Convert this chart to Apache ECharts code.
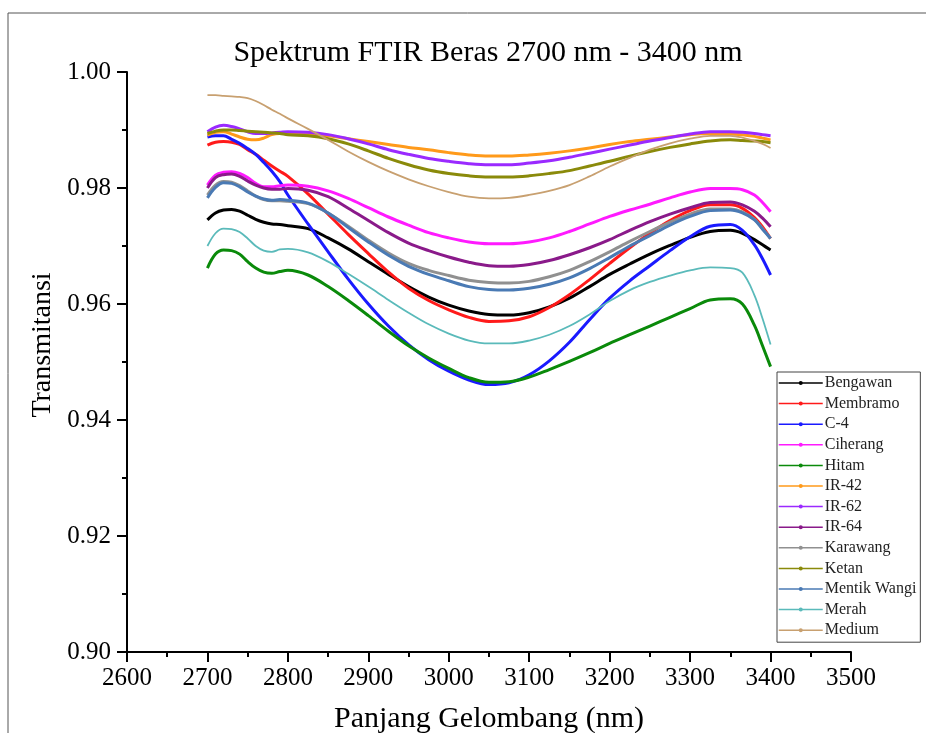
<!DOCTYPE html>
<html><head><meta charset="utf-8">
<script src="https://cdn.jsdelivr.net/npm/echarts@6/dist/echarts.min.js"></script>
<style>html,body{margin:0;padding:0;background:#fff}#c{width:926px;height:733px}</style>
</head><body><div id="c"></div>
<script>
const wavelength = [2700,2710,2720,2730,2740,2750,2760,2770,2780,2790,2800,2825,2850,2875,2900,2925,2950,2975,3000,3025,3050,3075,3100,3125,3150,3175,3200,3225,3250,3275,3300,3325,3350,3365,3380,3390,3400];

const bengawan    = [0.9745,0.9757,0.9762,0.9763,0.9760,0.9753,0.9746,0.9741,0.9738,0.9737,0.9735,0.9730,0.9714,0.9695,0.9673,0.9651,0.9630,0.9612,0.9598,0.9588,0.9582,0.9581,0.9585,0.9595,0.9610,0.9630,0.9651,0.9669,0.9686,0.9701,0.9715,0.9725,0.9727,0.9722,0.9711,0.9702,0.9693];
const membramo    = [0.9874,0.9879,0.9880,0.9879,0.9875,0.9866,0.9858,0.9848,0.9838,0.9829,0.9820,0.9790,0.9755,0.9720,0.9687,0.9655,0.9627,0.9606,0.9590,0.9577,0.9570,0.9571,0.9578,0.9594,0.9616,0.9642,0.9670,0.9697,0.9722,0.9744,0.9761,0.9771,0.9771,0.9765,0.9749,0.9733,0.9713];
const c4          = [0.9888,0.9890,0.9890,0.9884,0.9877,0.9868,0.9858,0.9844,0.9829,0.9811,0.9788,0.9738,0.9690,0.9643,0.9600,0.9562,0.9530,0.9504,0.9484,0.9469,0.9461,0.9464,0.9478,0.9502,0.9534,0.9573,0.9610,0.9640,0.9666,0.9692,0.9716,0.9734,0.9737,0.9727,0.9702,0.9678,0.9650];
const ciherang    = [0.9805,0.9822,0.9827,0.9828,0.9825,0.9818,0.9808,0.9802,0.9802,0.9804,0.9805,0.9803,0.9795,0.9782,0.9766,0.9750,0.9736,0.9723,0.9714,0.9707,0.9704,0.9704,0.9707,0.9714,0.9725,0.9738,0.9751,0.9762,0.9772,0.9783,0.9793,0.9799,0.9799,0.9797,0.9788,0.9775,0.9759];
const hitam       = [0.9662,0.9686,0.9693,0.9692,0.9686,0.9673,0.9662,0.9655,0.9653,0.9656,0.9658,0.9650,0.9630,0.9606,0.9580,0.9553,0.9528,0.9507,0.9489,0.9473,0.9465,0.9466,0.9474,0.9487,0.9501,0.9516,0.9532,0.9547,0.9562,0.9577,0.9592,0.9607,0.9609,0.9600,0.9563,0.9528,0.9492];
const ir42        = [0.9891,0.9896,0.9897,0.9893,0.9888,0.9884,0.9883,0.9886,0.9892,0.9894,0.9894,0.9893,0.9890,0.9885,0.9880,0.9875,0.9870,0.9866,0.9861,0.9857,0.9855,0.9855,0.9857,0.9860,0.9864,0.9869,0.9875,0.9880,0.9884,0.9888,0.9892,0.9894,0.9893,0.9892,0.9889,0.9886,0.9883];
const ir62        = [0.9897,0.9905,0.9908,0.9906,0.9902,0.9897,0.9894,0.9894,0.9895,0.9896,0.9897,0.9896,0.9892,0.9885,0.9876,0.9866,0.9858,0.9851,0.9846,0.9842,0.9840,0.9840,0.9843,0.9847,0.9853,0.9860,0.9867,0.9874,0.9881,0.9887,0.9893,0.9897,0.9897,0.9896,0.9894,0.9892,0.9890];
const ir64        = [0.9800,0.9818,0.9823,0.9824,0.9820,0.9812,0.9805,0.9800,0.9798,0.9798,0.9799,0.9796,0.9785,0.9765,0.9744,0.9723,0.9705,0.9692,0.9681,0.9672,0.9666,0.9665,0.9668,0.9675,0.9685,0.9697,0.9711,0.9727,0.9742,0.9755,0.9766,0.9775,0.9776,0.9771,0.9760,0.9748,0.9733];
const karawang    = [0.9788,0.9805,0.9811,0.9810,0.9804,0.9795,0.9786,0.9780,0.9778,0.9778,0.9777,0.9773,0.9757,0.9734,0.9710,0.9688,0.9670,0.9658,0.9649,0.9641,0.9637,0.9636,0.9639,0.9647,0.9658,0.9673,0.9690,0.9708,0.9725,0.9741,0.9755,0.9764,0.9764,0.9759,0.9746,0.9730,0.9713];
const ketan       = [0.9894,0.9898,0.9900,0.9900,0.9899,0.9898,0.9897,0.9896,0.9895,0.9894,0.9892,0.9890,0.9885,0.9876,0.9864,0.9851,0.9840,0.9831,0.9825,0.9821,0.9819,0.9819,0.9821,0.9825,0.9830,0.9838,0.9846,0.9855,0.9863,0.9870,0.9876,0.9881,0.9883,0.9882,0.9881,0.9880,0.9878];
const mentikWangi = [0.9783,0.9801,0.9809,0.9808,0.9802,0.9793,0.9786,0.9781,0.9779,0.9780,0.9779,0.9774,0.9757,0.9732,0.9707,0.9684,0.9665,0.9651,0.9640,0.9630,0.9625,0.9624,0.9627,0.9634,0.9645,0.9661,0.9680,0.9700,0.9718,0.9736,0.9751,0.9761,0.9762,0.9757,0.9745,0.9729,0.9713];
const merah       = [0.9700,0.9722,0.9730,0.9729,0.9724,0.9713,0.9700,0.9692,0.9690,0.9694,0.9695,0.9689,0.9673,0.9652,0.9630,0.9607,0.9585,0.9565,0.9549,0.9537,0.9532,0.9532,0.9537,0.9547,0.9562,0.9582,0.9605,0.9624,0.9638,0.9649,0.9658,0.9663,0.9662,0.9654,0.9615,0.9575,0.9530];
const medium      = [0.9960,0.9960,0.9959,0.9958,0.9957,0.9955,0.9950,0.9943,0.9935,0.9928,0.9920,0.9902,0.9883,0.9863,0.9845,0.9829,0.9815,0.9803,0.9793,0.9785,0.9782,0.9783,0.9788,0.9795,0.9805,0.9820,0.9837,0.9852,0.9866,0.9877,0.9885,0.9890,0.9890,0.9887,0.9881,0.9876,0.9869];

const seriesNames = ['Bengawan','Membramo','C-4','Ciherang','Hitam','IR-42','IR-62','IR-64','Karawang','Ketan','Mentik Wangi','Merah','Medium'];
const seriesValues = [bengawan,membramo,c4,ciherang,hitam,ir42,ir62,ir64,karawang,ketan,mentikWangi,merah,medium];
const seriesColors = ['#000000','#ff1a1a','#1a1aff','#ff1aff','#0a8a0a','#ff9a1a','#9a2aff','#8a1a8a','#909090','#8a8a0a','#4a7ab4','#5ababa','#c8a070'];
const seriesWidths = [3,3,3,3,3,3,3,3,3,3,3,1.8,1.8];

const xTicks = [2600,2700,2800,2900,3000,3100,3200,3300,3400,3500];
const yTicks = [0.90,0.92,0.94,0.96,0.98,1.00];

const FONT = '"Liberation Serif","Times New Roman",serif';
const chart = echarts.init(document.getElementById('c'));

const series = seriesNames.map((name, i) => ({
  name: name,
  type: 'line',
  data: wavelength.map((x, j) => [x, seriesValues[i][j]]),
  smooth: 0.35,
  showSymbol: false,
  symbol: 'circle',
  symbolSize: 4,
  lineStyle: { color: seriesColors[i], width: seriesWidths[i] },
  itemStyle: { color: seriesColors[i] },
  emphasis: { disabled: true },
  animation: false
}));

chart.setOption({
  backgroundColor: '#ffffff',
  animation: false,
  title: {
    text: 'Spektrum FTIR Beras 2700 nm - 3400 nm',
    left: 483,
    textAlign: 'center',
    top: 33,
    textStyle: { fontFamily: FONT, fontSize: 30, fontWeight: 'normal', color: '#000' }
  },
  graphic: [{
    type: 'rect',
    shape: { x: 8, y: 13, width: 960, height: 760 },
    style: { fill: 'none', stroke: '#555', lineWidth: 1 },
    z: -10, silent: true
  }],
  grid: { left: 127, right: 75, top: 72, bottom: 81, containLabel: false, outerBoundsMode: 'none' },
  legend: {
    orient: 'vertical',
    left: 777,
    top: 372,
    padding: [3, 4, 4, 1],
    itemGap: 4.6,
    itemWidth: 44,
    itemHeight: 5,
    backgroundColor: '#fff',
    borderColor: '#444',
    borderWidth: 1,
    lineStyle: { width: 1.5 },
    textStyle: { fontFamily: FONT, fontSize: 16, lineHeight: 16, color: '#222', padding: [0,0,0,-3] },
    data: seriesNames
  },
  xAxis: {
    type: 'value',
    min: xTicks[0],
    max: xTicks[xTicks.length - 1],
    interval: 100,
    name: 'Panjang Gelombang (nm)',
    nameLocation: 'middle',
    nameGap: 52,
    nameTextStyle: { fontFamily: FONT, fontSize: 30, color: '#000' },
    axisLine: { show: true, lineStyle: { color: '#000', width: 2 } },
    axisTick: { show: true, inside: false, length: 10, lineStyle: { color: '#000', width: 2 } },
    minorTick: { show: true, splitNumber: 2, length: 5, lineStyle: { color: '#000', width: 2 } },
    splitLine: { show: false },
    axisLabel: { fontFamily: FONT, fontSize: 25, color: '#000', margin: 14, formatter: v => String(v) }
  },
  yAxis: {
    type: 'value',
    min: yTicks[0],
    max: yTicks[yTicks.length - 1],
    interval: 0.02,
    name: 'Transmitansi',
    nameLocation: 'middle',
    nameGap: 67,
    nameTextStyle: { fontFamily: FONT, fontSize: 28, color: '#000', padding: [0, 0, 0, 34] },
    axisLine: { show: true, lineStyle: { color: '#000', width: 2 } },
    axisTick: { show: true, inside: false, length: 10, lineStyle: { color: '#000', width: 2 } },
    minorTick: { show: true, splitNumber: 2, length: 5, lineStyle: { color: '#000', width: 2 } },
    splitLine: { show: false },
    axisLabel: { fontFamily: FONT, fontSize: 25, color: '#000', margin: 16, formatter: v => v.toFixed(2) }
  },
  series: series
});
</script>
</body></html>
